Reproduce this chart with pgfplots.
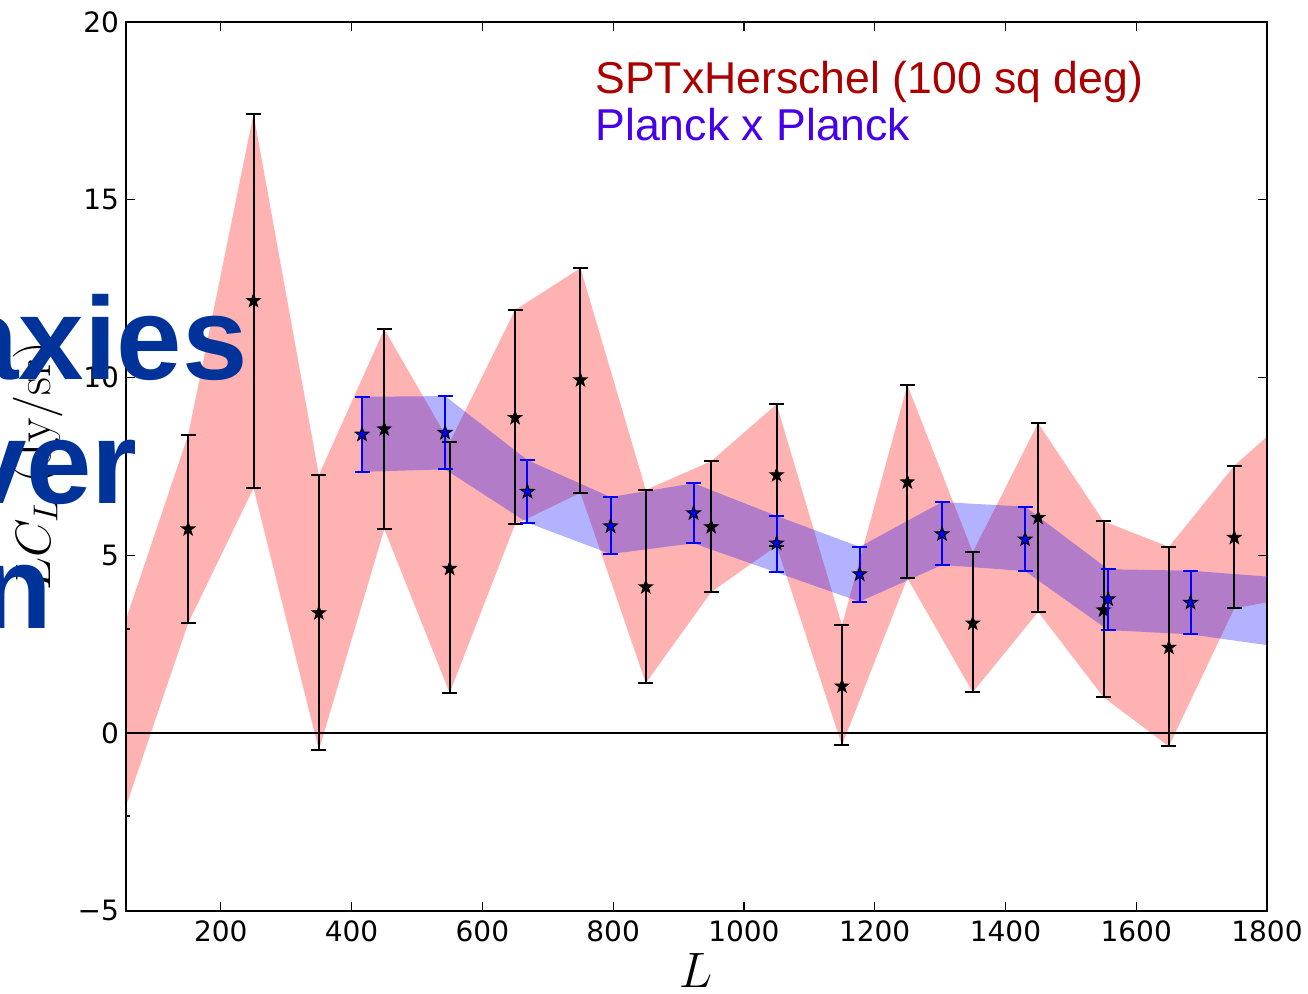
\documentclass[border=0pt]{standalone}
\usepackage{fontspec}
\usepackage{pgfplots}
\pgfplotsset{compat=1.18}
\usepackage{pgfplotstable}
\usepgfplotslibrary{fillbetween}

\newfontfamily\dejavu{DejaVu Sans}
\newfontfamily\libsans{Liberation Sans}

\definecolor{sptred}{RGB}{170,0,0}
\definecolor{planckviolet}{RGB}{70,0,235}
\definecolor{slideblue}{RGB}{0,51,153}
\definecolor{bandred}{RGB}{255,0,0}
\definecolor{bandblue}{RGB}{0,0,255}

% the slide title sits above the data but below ticks, spines and labels
\pgfplotsset{
  layers/slide/.define layer set={
    axis background,axis grid,pre main,main,slidetitle,
    axis ticks,axis lines,axis tick labels,axis descriptions,axis foreground}{},
}

% filled five-pointed star
\pgfdeclareplotmark{fstar}{%
  \pgfpathmoveto{\pgfpointpolar{90}{\pgfplotmarksize}}%
  \pgfpathlineto{\pgfpointpolar{126}{0.4*\pgfplotmarksize}}%
  \pgfpathlineto{\pgfpointpolar{162}{\pgfplotmarksize}}%
  \pgfpathlineto{\pgfpointpolar{198}{0.4*\pgfplotmarksize}}%
  \pgfpathlineto{\pgfpointpolar{234}{\pgfplotmarksize}}%
  \pgfpathlineto{\pgfpointpolar{270}{0.4*\pgfplotmarksize}}%
  \pgfpathlineto{\pgfpointpolar{306}{\pgfplotmarksize}}%
  \pgfpathlineto{\pgfpointpolar{342}{0.4*\pgfplotmarksize}}%
  \pgfpathlineto{\pgfpointpolar{18}{\pgfplotmarksize}}%
  \pgfpathlineto{\pgfpointpolar{54}{0.4*\pgfplotmarksize}}%
  \pgfpathclose
  \pgfusepathqfillstroke}

% SPT x Herschel bandpowers: L, value, lower and upper end of the error bar
\pgfplotstableread{
L     y      lo     hi
50    0.30  -2.33   2.93
150   5.74   3.09   8.38
250  12.16   6.89  17.41
350   3.38  -0.48   7.26
450   8.55   5.74  11.36
550   4.63   1.13   8.18
650   8.87   5.87  11.90
750   9.93   6.76  13.08
850   4.11   1.41   6.84
950   5.80   3.97   7.65
1050  7.26   5.27   9.25
1150  1.32  -0.34   3.04
1250  7.06   4.36   9.79
1350  3.09   1.15   5.09
1450  6.06   3.41   8.72
1550  3.46   1.01   5.96
1650  2.41  -0.37   5.24
1750  5.50   3.51   7.52
1850  6.50   3.85   9.16
}\spt

% Planck x Planck bandpowers
\pgfplotstableread{
L     y      lo     hi
416   8.40   7.35   9.46
543   8.45   7.42   9.48
669   6.79   5.92   7.68
796   5.82   5.04   6.64
923   6.19   5.34   7.03
1050  5.34   4.52   6.11
1177  4.47   3.70   5.24
1303  5.60   4.73   6.50
1430  5.45   4.56   6.37
1557  3.77   2.90   4.61
1683  3.67   2.78   4.57
1810  3.42   2.45   4.39
}\planck

\begin{document}
\begin{tikzpicture}
\begin{axis}[
  set layers=slide,
  clip mode=individual, clip marker paths=true,
  at={(63pt,41.5pt)}, anchor=south west,
  scale only axis, width=570.5pt, height=444.5pt,
  xmin=55, xmax=1800, ymin=-5, ymax=20,
  xtick={200,400,600,800,1000,1200,1400,1600,1800},
  xticklabels={200,400,600,800,1000,1200,1400,1600,1800},
  ytick={-5,0,5,10,15,20},
  yticklabels={−5,0,5,10,15,20},
  tick label style={font=\dejavu\fontsize{14}{16}\selectfont, black},
  xticklabel style={yshift=-1.5pt},
  tick align=inside, xtick pos=both, ytick pos=both,
  major tick length=4.5pt,
  tick style={black, line width=0.6pt},
  axis line style={black, line width=1pt},
  xlabel={$L$},
  xlabel style={at={(axis description cs:0.5,-0.0866)}, anchor=base,
    font=\fontsize{23}{26}\selectfont},
  ylabel={$LC_L\ (\mathrm{Jy/sr})$},
  ylabel style={at={(axis description cs:-0.0666,0.5)}, anchor=base,
    font=\fontsize{25}{28}\selectfont},
]
  % bands spanned by the error bars
  \addplot[name path=sptup, draw=none, forget plot] table[x=L, y=hi] {\spt};
  \addplot[name path=sptlo, draw=none, forget plot] table[x=L, y=lo] {\spt};
  \addplot[bandred, fill opacity=0.3, draw=none, forget plot] fill between[of=sptup and sptlo];
  \addplot[name path=plup, draw=none, forget plot] table[x=L, y=hi] {\planck};
  \addplot[name path=pllo, draw=none, forget plot] table[x=L, y=lo] {\planck};
  \addplot[bandblue, fill opacity=0.3, draw=none, forget plot] fill between[of=plup and pllo];

  % zero line
  \addplot[black, line width=1pt, forget plot] coordinates {(55,0) (1800,0)};

  % SPT x Herschel points
  \addplot[only marks, mark=fstar, mark size=3.6pt,
    mark options={fill=black, draw=black, line width=0.4pt},
    error bars/.cd, y dir=both, y explicit,
    error bar style={black, line width=1pt},
    error mark options={rotate=90, black, line width=1pt, mark size=3.75pt}]
    table[x=L, y=y,
      y error plus expr=\thisrow{hi}-\thisrow{y},
      y error minus expr=\thisrow{y}-\thisrow{lo}] {\spt};

  % Planck x Planck points
  \addplot[only marks, mark=fstar, mark size=3.6pt,
    mark options={fill=blue, draw=black, line width=0.5pt},
    error bars/.cd, y dir=both, y explicit,
    error bar style={blue, line width=1pt},
    error mark options={rotate=90, blue, line width=1pt, mark size=3.75pt}]
    table[x=L, y=y,
      y error plus expr=\thisrow{hi}-\thisrow{y},
      y error minus expr=\thisrow{y}-\thisrow{lo}] {\planck};

  \node[anchor=base west, inner sep=0pt, text=sptred,
    font=\libsans\fontsize{22.3}{24}\selectfont]
    at (rel axis cs:0.4111,0.920) {SPTxHerschel (100 sq deg)};
  \node[anchor=base west, inner sep=0pt, text=planckviolet,
    font=\libsans\fontsize{22.3}{24}\selectfont]
    at (rel axis cs:0.4111,0.867) {Planck x Planck};

  % slide title running in from the left
  \begin{pgfonlayer}{slidetitle}
    \node[anchor=base east, inner sep=0pt, text=slideblue,
      font=\libsans\bfseries\fontsize{58.8}{60}\selectfont]
      at (rel axis cs:0.1069,0.5973) {axies};
    \node[anchor=base east, inner sep=0pt, text=slideblue,
      font=\libsans\bfseries\fontsize{58.8}{60}\selectfont]
      at (rel axis cs:0.0105,0.4589) {ver};
    \node[anchor=base east, inner sep=0pt, text=slideblue,
      font=\libsans\bfseries\fontsize{58.8}{60}\selectfont]
      at (rel axis cs:-0.0640,0.3183) {n};
  \end{pgfonlayer}
\end{axis}
\pgfresetboundingbox
\useasboundingbox (0pt,0pt) rectangle (654pt,497pt);
\end{tikzpicture}
\end{document}
